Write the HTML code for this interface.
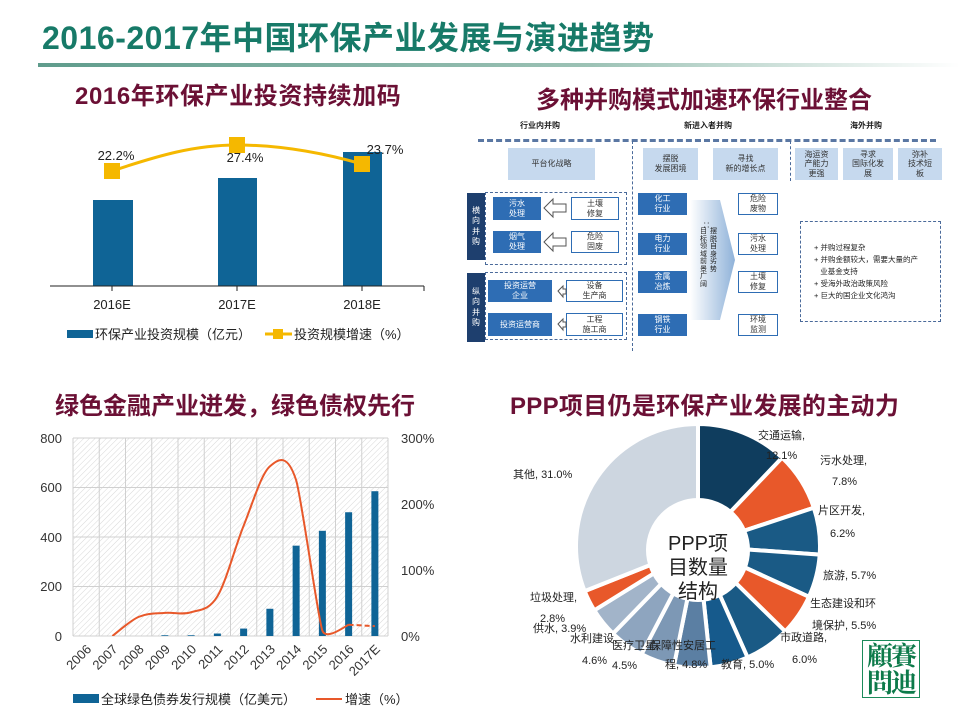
<!DOCTYPE html>
<html><head><meta charset="utf-8">
<style>
html,body{margin:0;padding:0;background:#fff;}
body{width:960px;height:720px;position:relative;overflow:hidden;font-family:"Liberation Sans","Noto Sans CJK SC",sans-serif;}
.a{position:absolute;white-space:nowrap;}
.title{left:42px;top:13px;font-size:32px;font-weight:bold;color:#177a68;letter-spacing:0.5px;}
.rule{left:38px;top:63px;width:922px;height:4px;background:linear-gradient(90deg,#5f9c8c,#9cc2b5 60%,#fff);}
.sub{font-size:24px;font-weight:bold;color:#6b1035;}
.bb{position:absolute;background:#2e6db4;color:#fff;font-size:8px;text-align:center;display:flex;align-items:center;justify-content:center;line-height:1.2;}
.lb{position:absolute;background:#c6d9ee;color:#333;font-size:8px;text-align:center;display:flex;align-items:center;justify-content:center;line-height:1.2;}
.wb{position:absolute;background:#fff;border:1px solid #2e6db4;color:#333;font-size:8px;text-align:center;display:flex;align-items:center;justify-content:center;line-height:1.2;box-sizing:border-box;}
.nb{position:absolute;background:#1e3f6e;color:#fff;font-size:8px;text-align:center;display:flex;align-items:center;justify-content:center;line-height:1.3;width:18px;}
.db{position:absolute;border:1.5px dashed #4a6a9a;box-sizing:border-box;}
</style></head><body>
<div class="a title">2016-2017年中国环保产业发展与演进趋势</div>
<div class="a rule"></div>
<div class="a sub" style="left:75px;top:76px;letter-spacing:0.6px;">2016年环保产业投资持续加码</div>
<div class="a sub" style="left:536px;top:80px;">多种并购模式加速环保行业整合</div>
<div class="a sub" style="left:55px;top:386px;">绿色金融产业迸发，绿色债权先行</div>
<div class="a sub" style="left:510px;top:386px;letter-spacing:0.3px;">PPP项目仍是环保产业发展的主动力</div>

<!-- top-left chart -->
<svg class="a" style="left:0;top:0" width="480" height="360" font-family="Liberation Sans, Noto Sans CJK SC, sans-serif">
<rect x="93" y="200" width="40" height="86" fill="#0f6496"/>
<rect x="218" y="178" width="39" height="108" fill="#0f6496"/>
<rect x="343" y="152" width="39" height="134" fill="#0f6496"/>
<line x1="50" y1="286" x2="424" y2="286" stroke="#222" stroke-width="1"/>
<line x1="424" y1="286" x2="424" y2="291" stroke="#222"/>
<line x1="112" y1="286" x2="112" y2="291" stroke="#222"/>
<line x1="237" y1="286" x2="237" y2="291" stroke="#222"/>
<line x1="362" y1="286" x2="362" y2="291" stroke="#222"/>
<path d="M112,171 C160,155 195,145 237,145 C280,145 320,152 362,164" fill="none" stroke="#f5b800" stroke-width="3"/>
<rect x="104" y="163" width="16" height="16" fill="#f5b800"/>
<rect x="229" y="137" width="16" height="16" fill="#f5b800"/>
<rect x="354" y="156" width="16" height="16" fill="#f5b800"/>
<g font-size="13" fill="#222" text-anchor="middle">
<text x="116" y="160">22.2%</text><text x="245" y="162">27.4%</text><text x="385" y="154">23.7%</text>
<text x="112" y="309">2016E</text><text x="237" y="309">2017E</text><text x="362" y="309">2018E</text>
</g>
<rect x="67" y="330" width="26" height="8" fill="#0f6496"/>
<text x="95" y="339" font-size="13" fill="#222">环保产业投资规模（亿元）</text>
<line x1="265" y1="334" x2="292" y2="334" stroke="#f5b800" stroke-width="3"/>
<rect x="273" y="329" width="10" height="10" fill="#f5b800"/>
<text x="294" y="339" font-size="13" fill="#222">投资规模增速（%）</text>
</svg>

<!-- top-right diagram -->
<div class="a" style="left:520px;top:120px;font-size:8px;font-weight:bold;color:#222;">行业内并购</div>
<div class="a" style="left:684px;top:120px;font-size:8px;font-weight:bold;color:#222;">新进入者并购</div>
<div class="a" style="left:850px;top:120px;font-size:8px;font-weight:bold;color:#222;">海外并购</div>
<div class="a" style="left:478px;top:139px;width:458px;height:0;border-top:3px dashed #5a77a3;"></div>
<div class="a" style="left:632px;top:141px;height:210px;border-left:1px dashed #4a6a9a;"></div>
<div class="a" style="left:790px;top:141px;height:40px;border-left:1px dashed #4a6a9a;"></div>
<div class="lb" style="left:508px;top:148px;width:87px;height:32px;">平台化战略</div>
<div class="lb" style="left:643px;top:148px;width:55px;height:32px;">摆脱<br>发展困境</div>
<div class="lb" style="left:713px;top:148px;width:65px;height:32px;">寻找<br>新的增长点</div>
<div class="lb" style="left:795px;top:148px;width:43px;height:32px;">海运资<br>产能力<br>更强</div>
<div class="lb" style="left:843px;top:148px;width:50px;height:32px;">寻求<br>国际化发<br>展</div>
<div class="lb" style="left:898px;top:148px;width:44px;height:32px;">弥补<br>技术短<br>板</div>
<div class="nb" style="left:467px;top:193px;height:67px;">横<br>向<br>并<br>购</div>
<div class="nb" style="left:467px;top:273px;height:69px;">纵<br>向<br>并<br>购</div>
<div class="db" style="left:485px;top:192px;width:142px;height:73px;"></div>
<div class="db" style="left:485px;top:272px;width:142px;height:68px;"></div>
<div class="bb" style="left:493px;top:197px;width:48px;height:23px;">污水<br>处理</div>
<div class="bb" style="left:493px;top:231px;width:48px;height:22px;">烟气<br>处理</div>
<div class="bb" style="left:488px;top:280px;width:64px;height:22px;">投资运营<br>企业</div>
<div class="bb" style="left:488px;top:313px;width:64px;height:23px;">投资运营商</div>
<div class="wb" style="left:571px;top:197px;width:48px;height:23px;">土壤<br>修复</div>
<div class="wb" style="left:571px;top:231px;width:48px;height:22px;">危险<br>固废</div>
<div class="wb" style="left:566px;top:280px;width:57px;height:22px;">设备<br>生产商</div>
<div class="wb" style="left:566px;top:313px;width:57px;height:23px;">工程<br>施工商</div>
<svg class="a" style="left:540px;top:190px" width="40" height="150">
<path d="M4,18 L13,9 L13,14 L26,14 L26,22 L13,22 L13,27 Z" fill="#fff" stroke="#555"/>
<path d="M4,52 L13,43 L13,48 L26,48 L26,56 L13,56 L13,61 Z" fill="#fff" stroke="#555"/>
<path d="M18,101 L23,96 L23,99 L26,99 L26,104 L23,104 L23,107 Z" fill="#fff" stroke="#555"/>
<path d="M18,134 L23,129 L23,132 L26,132 L26,137 L23,137 L23,140 Z" fill="#fff" stroke="#555"/>
</svg>
<div class="bb" style="left:638px;top:193px;width:49px;height:22px;">化工<br>行业</div>
<div class="bb" style="left:638px;top:233px;width:49px;height:22px;">电力<br>行业</div>
<div class="bb" style="left:638px;top:271px;width:49px;height:22px;">金属<br>冶炼</div>
<div class="bb" style="left:638px;top:314px;width:49px;height:22px;">钢铁<br>行业</div>
<svg class="a" style="left:690px;top:195px" width="50" height="130">
<defs><linearGradient id="g1" x1="0" x2="1"><stop offset="0" stop-color="#fff"/><stop offset="1" stop-color="#8fb2d9"/></linearGradient></defs>
<path d="M0,5 L30,5 L45,65 L30,125 L0,125 Z" fill="url(#g1)"/>
</svg>
<div class="a" style="left:703px;top:222px;font-size:7px;line-height:7px;color:#222;white-space:normal;width:16px;">：：</div>
<div class="a" style="left:700px;top:228px;font-size:7px;line-height:7.5px;color:#222;white-space:normal;width:8px;">目标领域前景广阔</div>
<div class="a" style="left:710px;top:228px;font-size:7px;line-height:7.5px;color:#222;white-space:normal;width:8px;">摆脱自身劣势</div>
<div class="wb" style="left:738px;top:193px;width:40px;height:22px;">危险<br>废物</div>
<div class="wb" style="left:738px;top:233px;width:40px;height:22px;">污水<br>处理</div>
<div class="wb" style="left:738px;top:271px;width:40px;height:22px;">土壤<br>修复</div>
<div class="wb" style="left:738px;top:314px;width:40px;height:22px;">环境<br>监测</div>
<div class="db" style="left:800px;top:221px;width:141px;height:101px;"></div>
<div class="a" style="left:814px;top:242px;font-size:7.5px;line-height:12px;color:#222;">
+ 并购过程复杂<br>+ 并购金额较大，需要大量的产<br>&nbsp;&nbsp;&nbsp;业基金支持<br>+ 受海外政治政策风险<br>+ 巨大的国企业文化鸿沟</div>

<!-- bottom-left chart -->
<svg class="a" style="left:0;top:420px" width="460" height="300" font-family="Liberation Sans, Noto Sans CJK SC, sans-serif">
<defs>
<pattern id="h" width="4" height="4" patternUnits="userSpaceOnUse" patternTransform="rotate(45)"><line x1="0" y1="0" x2="0" y2="4" stroke="#d8d8d8" stroke-width="1"/></pattern>
<clipPath id="pc"><rect x="73" y="18" width="315" height="198"/></clipPath>
</defs>
<rect x="73" y="18" width="315" height="198" fill="url(#h)"/>
<g stroke="#d0d0d0" stroke-width="1" id="grid"></g>
<g id="bars" fill="#0f6496"></g>
<path id="ln" fill="none" stroke="#e8582a" stroke-width="2" clip-path="url(#pc)"/>
<path id="ln2" fill="none" stroke="#e8582a" stroke-width="2" stroke-dasharray="5,3"/>
<g font-size="13" fill="#333">
<text x="62" y="23" text-anchor="end">800</text><text x="62" y="72" text-anchor="end">600</text>
<text x="62" y="122" text-anchor="end">400</text><text x="62" y="171" text-anchor="end">200</text>
<text x="62" y="221" text-anchor="end">0</text>
<text x="401" y="23">300%</text><text x="401" y="89">200%</text><text x="401" y="155">100%</text><text x="401" y="221">0%</text>
</g>
<g id="xl" font-size="13" fill="#333"></g>
<rect x="73" y="274" width="26" height="9" fill="#0f6496"/>
<text x="101" y="284" font-size="13" fill="#222">全球绿色债券发行规模（亿美元）</text>
<line x1="316" y1="279" x2="342" y2="279" stroke="#e8582a" stroke-width="2"/>
<text x="345" y="284" font-size="13" fill="#222">增速（%）</text>
</svg>

<!-- pie -->
<svg class="a" style="left:480px;top:400px" width="480" height="320" font-family="Liberation Sans, Noto Sans CJK SC, sans-serif">
<g id="pie"></g>
<circle cx="218" cy="150" r="52" fill="#fff"/>
<g font-size="20" fill="#222" text-anchor="middle">
<text x="218" y="150">PPP项</text><text x="218" y="174">目数量</text><text x="218" y="198">结构</text>
</g>
<g font-size="11" fill="#222">
<text x="278" y="39">交通运输,</text><text x="286" y="59">12.1%</text>
<text x="340" y="64">污水处理,</text><text x="352" y="85">7.8%</text>
<text x="338" y="114">片区开发,</text><text x="350" y="137">6.2%</text>
<text x="343" y="179">旅游, 5.7%</text>
<text x="330" y="207">生态建设和环</text><text x="332" y="229">境保护, 5.5%</text>
<text x="300" y="241">市政道路,</text><text x="312" y="263">6.0%</text>
<text x="241" y="268">教育, 5.0%</text>
<text x="170" y="249">保障性安居工</text><text x="185" y="268">程, 4.8%</text>
<text x="132" y="249">医疗卫星,</text><text x="132" y="269">4.5%</text>
<text x="90" y="242">水利建设,</text><text x="102" y="264">4.6%</text>
<text x="53" y="232">供水, 3.9%</text>
<text x="50" y="201">垃圾处理,</text><text x="60" y="222">2.8%</text>
<text x="33" y="78">其他, 31.0%</text>
</g>
</svg>

<!-- logo -->
<div class="a" style="left:862px;top:640px;width:56px;height:56px;border:1px solid #1a8a5a;color:#0d7a4a;font-family:'Noto Serif CJK SC',serif;font-weight:bold;font-size:26px;line-height:27px;letter-spacing:-2px;text-align:center;white-space:normal;">顧賽<br>問迪</div>

<script>
(function(){
var ns="http://www.w3.org/2000/svg";
function el(t,a,p){var e=document.createElementNS(ns,t);for(var k in a)e.setAttribute(k,a[k]);p.appendChild(e);return e;}
var x0=73,w=26.25,y0=216,sy=198/800,sp=198/300;
var g=document.getElementById('grid');
for(var i=0;i<=12;i++)el('line',{x1:x0+i*w,y1:18,x2:x0+i*w,y2:216},g);
for(var j=0;j<=4;j++)el('line',{x1:x0,y1:18+j*49.5,x2:388,y2:18+j*49.5},g);
var bars=[0,0,0,3,3,10,30,110,365,425,500,585];
var bg=document.getElementById('bars');
bars.forEach(function(v,i){if(v>0){var h=v*sy;el('rect',{x:x0+(i+0.5)*w-3.5,y:y0-h,width:7,height:h},bg);}});
var yrs=['2006','2007','2008','2009','2010','2011','2012','2013','2014','2015','2016','2017E'];
var xl=document.getElementById('xl');
yrs.forEach(function(s,i){var cx=x0+(i+0.5)*w+6;var t=el('text',{x:cx,y:230,'text-anchor':'end',transform:'rotate(-45 '+cx+' 230)'},xl);t.textContent=s;});
var pv=[null,0,29,35,36,60,167,257,236,8,17,15];
var pts=[];pv.forEach(function(v,i){if(v!==null)pts.push([x0+(i+0.5)*w,y0-v*sp]);});
function cr(p){var d='M'+p[0][0]+','+p[0][1];for(var i=0;i<p.length-1;i++){var a=p[i-1]||p[i],b=p[i],c=p[i+1],e=p[i+2]||c;var k1=(i==7)?10:6,k2=(i==7||i==8)?12:6;if(i==8)k1=14;var c1=[b[0]+(c[0]-a[0])/k1,b[1]+(c[1]-a[1])/k1],c2=[c[0]-(e[0]-b[0])/k2,c[1]-(e[1]-b[1])/k2];d+=' C'+c1+' '+c2+' '+c;}return d;}
document.getElementById('ln').setAttribute('d',cr(pts.slice(0,10)));
document.getElementById('ln2').setAttribute('d',cr(pts.slice(9)));
var data=[[12.1,'#0f3d5e'],[7.8,'#e8582a'],[6.2,'#1a5a85'],[5.7,'#1a5a85'],[5.5,'#e8582a'],[6.0,'#1a5a85'],[5.0,'#165a8c'],[4.8,'#5b7fa3'],[4.5,'#7d98b5'],[4.6,'#8ea5bf'],[3.9,'#a2b4c9'],[2.8,'#e8582a'],[31.0,'#cdd6e0']];
var tot=0;data.forEach(function(d){tot+=d[0];});
var cx=218,cy=146,R=122,pg=document.getElementById('pie'),a=-Math.PI/2;
data.forEach(function(d){var s=a,e=a+d[0]/tot*2*Math.PI;a=e;
var x1=cx+R*Math.cos(s),y1=cy+R*Math.sin(s),x2=cx+R*Math.cos(e),y2=cy+R*Math.sin(e);
var lg=(e-s)>Math.PI?1:0;
el('path',{d:'M'+cx+','+cy+' L'+x1+','+y1+' A'+R+','+R+' 0 '+lg+' 1 '+x2+','+y2+' Z',fill:d[1],stroke:'#fff','stroke-width':4},pg);});
})();
</script>
</body></html>
